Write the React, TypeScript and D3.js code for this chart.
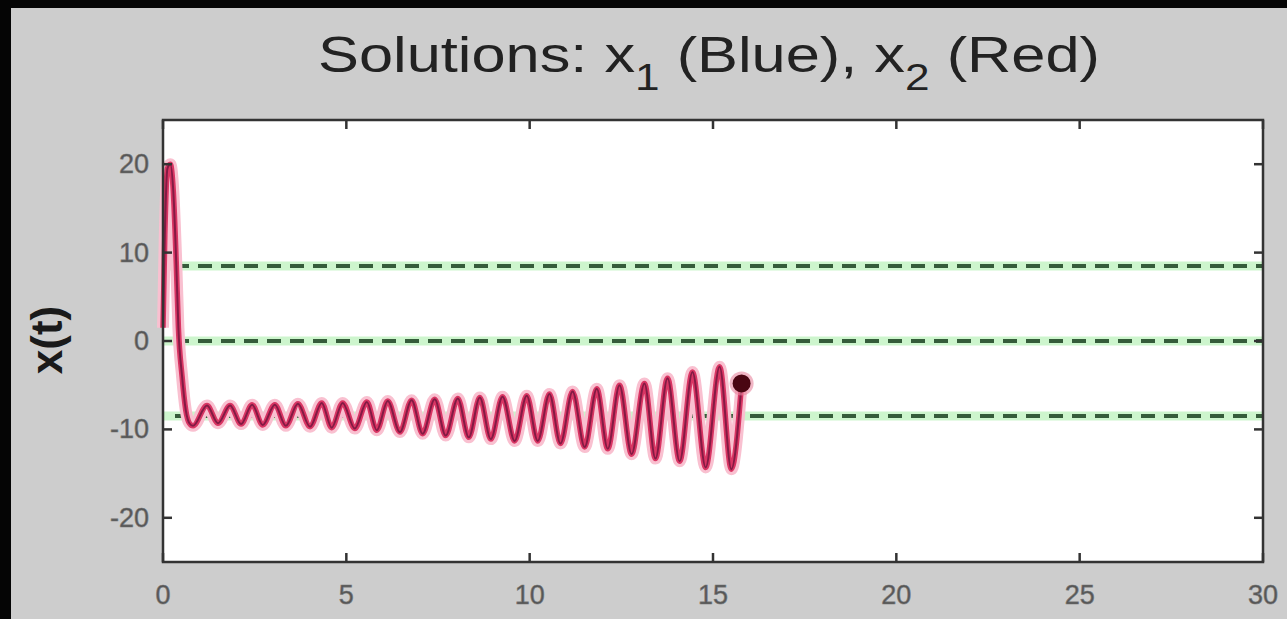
import { useEffect, useRef } from 'react';
import * as d3 from 'd3';

// trajectory: t and x(t), x1 and x2 lie on top of each other
const tValues = [
  0, 0.05, 0.12, 0.2, 0.28, 0.36, 0.42, 0.52, 0.62, 0.72, 0.82,
  1.2, 1.5, 1.83, 2.13, 2.43, 2.72, 3.05, 3.35, 3.68, 4.01, 4.33, 4.6,
  4.9, 5.23, 5.56, 5.83, 6.13, 6.46, 6.78, 7.08, 7.41, 7.71, 8.04, 8.34,
  8.64, 8.94, 9.26, 9.59, 9.92, 10.22, 10.54, 10.84, 11.17, 11.5, 11.83,
  12.13, 12.45, 12.78, 13.13, 13.43, 13.76, 14.09, 14.44, 14.8, 15.18,
  15.5, 15.78,
];
const xValues = [
  1.5, 12, 19.5, 20, 17, 9, 1.5, -4, -7.8, -9.3, -9.6,
  -7.3, -9.3, -7.3, -9.4, -7.2, -9.5, -7.2, -9.6, -7.1, -9.7, -7.0, -9.8,
  -7.0, -9.9, -6.9, -10.1, -6.8, -10.3, -6.7, -10.5, -6.6, -10.7, -6.5, -10.9,
  -6.4, -11.1, -6.3, -11.3, -6.2, -11.3, -6.0, -11.6, -5.7, -12.0, -5.4,
  -12.2, -5.0, -12.8, -4.8, -13.3, -4.2, -13.6, -3.5, -14.3, -2.9,
  -14.5, -4.8,
];
// equilibrium levels (dashed green)
const levels = [8.485, 0, -8.485];
const xTicks = [0, 5, 10, 15, 20, 25, 30];
const yTicks = [-20, -10, 0, 10, 20];

function App() {
  const svgRef = useRef(null);

  useEffect(() => {
    const W = 1287;
    const H = 619;
    const left = 163, right = 1263, top = 120, bottom = 562;
    const svg = d3.select(svgRef.current).attr('width', W).attr('height', H);
    svg.selectAll('*').remove();

    // frame: black border, gray figure
    svg.append('rect').attr('width', W).attr('height', H).attr('fill', '#050505');
    svg.append('rect').attr('x', 11).attr('y', 8).attr('width', W - 11).attr('height', H - 8)
      .attr('fill', '#cdcdcd');

    const xScale = d3.scaleLinear().domain([0, 30]).range([left, right]);
    const yScale = d3.scaleLinear().domain([-25, 25]).range([bottom, top]);

    svg.append('rect').attr('x', left).attr('y', top)
      .attr('width', right - left).attr('height', bottom - top).attr('fill', '#fff');

    // dashed reference lines
    const lv = svg.append('g');
    lv.selectAll('.glow').data(levels).join('line')
      .attr('x1', left).attr('x2', right)
      .attr('y1', d => yScale(d)).attr('y2', d => yScale(d))
      .attr('stroke', '#cdf5cd').attr('stroke-width', 9);
    lv.selectAll('.dash').data(levels).join('line')
      .attr('x1', left + 12).attr('x2', right)
      .attr('y1', d => yScale(d)).attr('y2', d => yScale(d))
      .attr('stroke', '#355c3a').attr('stroke-width', 4)
      .attr('stroke-dasharray', '14 9');

    const pts = tValues.map((t, i) => [t, xValues[i]]);
    const line = d3.line()
      .x(d => xScale(d[0]))
      .y(d => yScale(d[1]))
      .curve(d3.curveMonotoneX);

    // blur halo, x2 (red) and x1 (blue) drawn over each other
    svg.append('path').attr('d', line(pts)).attr('fill', 'none')
      .attr('stroke', '#f9c0d0').attr('stroke-width', 12).attr('stroke-linejoin', 'round');
    svg.append('path').attr('d', line(pts)).attr('fill', 'none')
      .attr('stroke', '#d93563').attr('stroke-width', 5.5).attr('stroke-linejoin', 'round');
    svg.append('path').attr('d', line(pts)).attr('fill', 'none')
      .attr('stroke', '#5e0f38').attr('stroke-width', 2).attr('opacity', 0.7);

    const last = pts[pts.length - 1];
    svg.append('circle').attr('cx', xScale(last[0])).attr('cy', yScale(last[1]))
      .attr('r', 12).attr('fill', '#e8869f').attr('opacity', 0.6);
    svg.append('circle').attr('cx', xScale(last[0])).attr('cy', yScale(last[1]))
      .attr('r', 9).attr('fill', '#4a0612');

    // axes box with inside ticks (matlab style)
    const ax = svg.append('g').attr('stroke', '#333').attr('stroke-width', 2.5);
    ax.append('rect').attr('x', left).attr('y', top)
      .attr('width', right - left).attr('height', bottom - top).attr('fill', 'none');
    ax.selectAll('.xb').data(xTicks).join('line')
      .attr('x1', d => xScale(d)).attr('x2', d => xScale(d))
      .attr('y1', bottom).attr('y2', bottom - 9);
    ax.selectAll('.xt').data(xTicks).join('line')
      .attr('x1', d => xScale(d)).attr('x2', d => xScale(d))
      .attr('y1', top).attr('y2', top + 9);
    ax.selectAll('.yl').data(yTicks).join('line')
      .attr('y1', d => yScale(d)).attr('y2', d => yScale(d))
      .attr('x1', left).attr('x2', left + 9);
    ax.selectAll('.yr').data(yTicks).join('line')
      .attr('y1', d => yScale(d)).attr('y2', d => yScale(d))
      .attr('x1', right).attr('x2', right - 9);

    const font = 'Liberation Sans, Arial, sans-serif';
    svg.append('g').selectAll('text').data(xTicks).join('text')
      .attr('x', d => xScale(d)).attr('y', 604)
      .attr('text-anchor', 'middle').attr('font-family', font).attr('font-size', 27)
      .attr('fill', '#555').attr('stroke', '#777').attr('stroke-width', 0.6).text(d => d);
    svg.append('g').selectAll('text').data(yTicks).join('text')
      .attr('x', 149).attr('y', d => yScale(d) + 9)
      .attr('text-anchor', 'end').attr('font-family', font).attr('font-size', 27)
      .attr('fill', '#555').attr('stroke', '#777').attr('stroke-width', 0.6).text(d => d);

    // y label
    svg.append('text').attr('transform', 'translate(62,340) rotate(-90)')
      .attr('text-anchor', 'middle').attr('font-family', font).attr('font-size', 44)
      .attr('font-weight', 'bold').attr('fill', '#1a1a1a').text('x(t)');

    // title with subscripts
    const title = svg.append('text').attr('x', 318).attr('y', 72)
      .attr('font-family', font).attr('font-size', 50).attr('fill', '#222')
      .attr('textLength', 782).attr('lengthAdjust', 'spacingAndGlyphs');
    title.append('tspan').text('Solutions: x');
    title.append('tspan').attr('dy', 18).attr('font-size', 36).text('1');
    title.append('tspan').attr('dy', -18).text(' (Blue), x');
    title.append('tspan').attr('dy', 18).attr('font-size', 36).text('2');
    title.append('tspan').attr('dy', -18).text(' (Red)');
  }, []);

  return (
    <div style={{ position: 'absolute', left: 0, top: 0 }}>
      <svg ref={svgRef} style={{ display: 'block' }}></svg>
    </div>
  );
}

export default App;
